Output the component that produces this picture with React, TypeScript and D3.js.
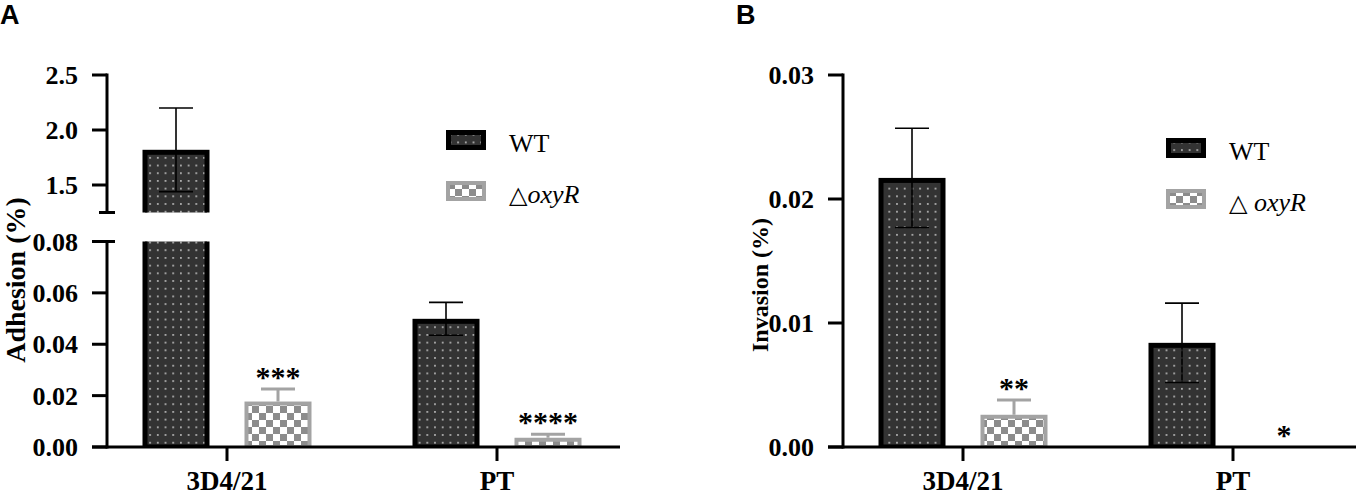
import React from 'react';
import * as d3 from 'd3';

const categories = ['3D4/21', 'PT'];
const groups = ['WT', 'oxyR'];

const adhesionWT = [1.82, 0.0499];
const adhesionWTErr = [0.38, 0.0064];
const adhesionOxyR = [0.0177, 0.0036];
const adhesionOxyRErr = [0.0049, 0.0014];
const adhesionStars = ['***', '****'];
const adhesionLowTicks = [0, 0.02, 0.04, 0.06, 0.08];
const adhesionHighTicks = [1.5, 2.0, 2.5];

const invasionWT = [0.0217, 0.0084];
const invasionWTErr = [0.004, 0.0032];
const invasionOxyR = [0.0026, 0];
const invasionOxyRErr = [0.0012, 0];
const invasionStars = ['**', '*'];
const invasionTicks = [0, 0.01, 0.02, 0.03];

const SERIF = '"Liberation Serif", "Times New Roman", serif';
const BASE = 447;

interface Segment {
  scale: d3.ScaleLinear<number, number>;
  ticks: number[];
  fmt: (v: number) => string;
  top: number;
  bottom: number;
  breakTop?: boolean;
  breakBottom?: boolean;
}

interface PanelProps {
  id: string;
  x0: number;
  letter: string;
  yLabel: string;
  yLabelSize: number;
  yLabelX: number;
  yLabelY: number;
  segments: Segment[];
  wt: number[];
  wtErr: number[];
  ko: number[];
  koErr: number[];
  stars: string[];
  legendX: number;
  legendY: number;
  koText: string;
}

function Panel(p: PanelProps) {
  const yAxisX = p.x0 + 107;
  const xStart = p.x0 + 92;
  const xEnd = p.x0 + 620;
  const xCat = d3.scalePoint<string>().domain(categories).range([xStart, xStart + 540]).padding(0.5);
  const xGroup = d3.scaleBand<string>().domain(groups).range([-84.5, 84.5]).paddingInner(0.343);
  const bw = xGroup.bandwidth();

  // which axis segment holds a value (for the star labels)
  const segFor = (v: number) =>
    p.segments.find(s => {
      const [a, b] = s.scale.domain();
      return v >= Math.min(a, b) - 1e-9 && v <= Math.max(a, b) + 1e-9;
    }) || p.segments[p.segments.length - 1];

  return (
    <g>
      <defs>
        {p.segments.map((s, i) => (
          <clipPath id={`${p.id}-clip-${i}`} key={i}>
            <rect x={p.x0} y={s.top} width={700} height={s.bottom - s.top} />
          </clipPath>
        ))}
      </defs>

      <text x={p.x0} y={24} fontFamily='"Liberation Sans", Arial, sans-serif' fontWeight="bold" fontSize={27}>
        {p.letter}
      </text>

      {p.segments.map((s, si) => (
        <g key={si} clipPath={`url(#${p.id}-clip-${si})`}>
          {categories.map((c, ci) => {
            const cx = xCat(c)!;
            const wx = cx + xGroup('WT')!;
            const kx = cx + xGroup('oxyR')!;
            const wv = p.wt[ci];
            const we = p.wtErr[ci];
            const kv = p.ko[ci];
            const ke = p.koErr[ci];
            const y0 = s.scale(0);
            return (
              <g key={c}>
                {wv > 0 && (
                  <g>
                    <rect x={wx + 2.5} y={s.scale(wv) + 2.5} width={bw - 5} height={y0 - s.scale(wv) - 2.5}
                      fill="url(#dots)" stroke="#000" strokeWidth={5} />
                    <line x1={wx + bw / 2} x2={wx + bw / 2} y1={s.scale(wv - we)} y2={s.scale(wv + we)} stroke="#000" strokeWidth={1.6} />
                    <line x1={wx + bw / 2 - 17} x2={wx + bw / 2 + 17} y1={s.scale(wv + we)} y2={s.scale(wv + we)} stroke="#000" strokeWidth={1.6} />
                    <line x1={wx + bw / 2 - 17} x2={wx + bw / 2 + 17} y1={s.scale(wv - we)} y2={s.scale(wv - we)} stroke="#000" strokeWidth={1.6} />
                  </g>
                )}
                {kv > 0 && (
                  <g>
                    <line x1={kx + bw / 2} x2={kx + bw / 2} y1={s.scale(kv)} y2={s.scale(kv + ke)} stroke="#a3a3a3" strokeWidth={3} />
                    <line x1={kx + bw / 2 - 17} x2={kx + bw / 2 + 17} y1={s.scale(kv + ke)} y2={s.scale(kv + ke)} stroke="#a3a3a3" strokeWidth={3} />
                    <rect x={kx + 2} y={s.scale(kv) + 2} width={bw - 4} height={y0 - s.scale(kv) - 2}
                      fill="url(#checker)" stroke="#a3a3a3" strokeWidth={4} />
                  </g>
                )}
              </g>
            );
          })}
        </g>
      ))}

      {categories.map((c, ci) => {
        const kx = xCat(c)! + xGroup('oxyR')! + bw / 2;
        const top = p.ko[ci] + p.koErr[ci];
        const y = segFor(top).scale(top) - 2;
        return (
          <text key={c} x={kx} y={y} textAnchor="middle" fontFamily={SERIF} fontWeight="bold" fontSize={30}>
            {p.stars[ci]}
          </text>
        );
      })}

      {p.segments.map((s, si) => {
        const [lo, hi] = s.scale.domain();
        return (
          <g key={si}>
            <line x1={yAxisX} x2={yAxisX} y1={s.scale(hi) - 1.5} y2={s.scale(lo) + (si === p.segments.length - 1 ? 1.5 : 0)}
              stroke="#000" strokeWidth={3} />
            {s.ticks.map(t => (
              <g key={t}>
                <line x1={yAxisX - 15} x2={yAxisX} y1={s.scale(t)} y2={s.scale(t)} stroke="#000" strokeWidth={3} />
                <text x={yAxisX - 29} y={s.scale(t)} dy="0.35em" textAnchor="end" fontFamily={SERIF} fontWeight="bold" fontSize={26}>
                  {s.fmt(t)}
                </text>
              </g>
            ))}
            {s.breakBottom && (
              <line x1={yAxisX - 8} x2={yAxisX + 8} y1={s.scale(lo)} y2={s.scale(lo)} stroke="#000" strokeWidth={3} />
            )}
            {s.breakTop && (
              <line x1={yAxisX - 8} x2={yAxisX + 8} y1={s.scale(hi)} y2={s.scale(hi)} stroke="#000" strokeWidth={3} />
            )}
          </g>
        );
      })}

      <line x1={xStart} x2={xEnd} y1={BASE} y2={BASE} stroke="#000" strokeWidth={3} />
      {categories.map(c => (
        <g key={c}>
          <line x1={xCat(c)} x2={xCat(c)} y1={BASE} y2={BASE + 14} stroke="#000" strokeWidth={3} />
          <text x={xCat(c)} y={490} textAnchor="middle" fontFamily={SERIF} fontWeight="bold" fontSize={27}>
            {c}
          </text>
        </g>
      ))}

      <text transform={`translate(${p.yLabelX},${p.yLabelY}) rotate(-90)`} textAnchor="middle" dy="0.35em"
        fontFamily={SERIF} fontWeight="bold" fontSize={p.yLabelSize}>
        {p.yLabel}
      </text>

      <g>
        <rect x={p.legendX + 2.5} y={p.legendY + 2.5} width={35} height={15} fill="url(#dots)" stroke="#000" strokeWidth={5} />
        <text x={p.legendX + 63} y={p.legendY + 22} fontFamily={SERIF} fontSize={26}>WT</text>
        <rect x={p.legendX + 2} y={p.legendY + 53} width={36} height={16} fill="url(#checker)" stroke="#a3a3a3" strokeWidth={4} />
        <text x={p.legendX + 63} y={p.legendY + 73} fontFamily={SERIF} fontSize={26}>
          <tspan fontFamily='"DejaVu Sans", sans-serif' fontSize={24}>△</tspan>
          <tspan fontStyle="italic">{p.koText}</tspan>
        </text>
      </g>
    </g>
  );
}

export default function App() {
  const adhesionLow = d3.scaleLinear().domain([0, 0.08]).range([BASE, 241.5]);
  const adhesionHigh = d3.scaleLinear().domain([1.25, 2.5]).range([212.5, 75]);
  const invasionY = d3.scaleLinear().domain([0, 0.03]).range([BASE, 75]);
  const f2 = d3.format('.2f');
  const f1 = d3.format('.1f');

  const adhesionSegments: Segment[] = [
    { scale: adhesionHigh, ticks: adhesionHighTicks, fmt: f1, top: 0, bottom: 212.5, breakBottom: true },
    { scale: adhesionLow, ticks: adhesionLowTicks, fmt: f2, top: 241.5, bottom: BASE + 1, breakTop: true },
  ];
  const invasionSegments: Segment[] = [
    { scale: invasionY, ticks: invasionTicks, fmt: f2, top: 0, bottom: BASE + 1 },
  ];

  return (
    <svg width={1358} height={495} style={{ position: 'absolute', left: 0, top: 0, background: '#fff' }}>
      <defs>
        <pattern id="dots" patternUnits="userSpaceOnUse" width={7.7} height={7.7}>
          <rect width={7.7} height={7.7} fill="#333333" />
          <rect x={3} y={3} width={1.6} height={1.6} fill="#cfcfcf" />
        </pattern>
        <pattern id="checker" patternUnits="userSpaceOnUse" width={14} height={14}>
          <rect width={14} height={14} fill="#ffffff" />
          <rect x={0} y={0} width={7} height={7} fill="#8c8c8c" />
          <rect x={7} y={7} width={7} height={7} fill="#8c8c8c" />
        </pattern>
      </defs>
      <Panel id="A" x0={0} letter="A" yLabel="Adhesion (%)" yLabelSize={28} yLabelX={15} yLabelY={280}
        segments={adhesionSegments} wt={adhesionWT} wtErr={adhesionWTErr} ko={adhesionOxyR} koErr={adhesionOxyRErr}
        stars={adhesionStars} legendX={446} legendY={130} koText="oxyR" />
      <Panel id="B" x0={736} letter="B" yLabel="Invasion (%)" yLabelSize={24} yLabelX={760} yLabelY={285}
        segments={invasionSegments} wt={invasionWT} wtErr={invasionWTErr} ko={invasionOxyR} koErr={invasionOxyRErr}
        stars={invasionStars} legendX={1166} legendY={138} koText=" oxyR" />
    </svg>
  );
}
